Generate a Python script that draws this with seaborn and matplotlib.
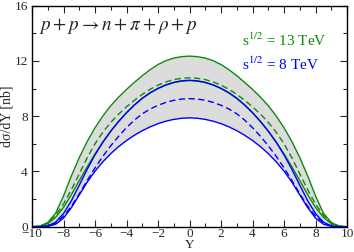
import matplotlib
matplotlib.use("Agg")
import matplotlib.pyplot as plt
import seaborn as sns
import pandas as pd

# rapidity grid, -10 .. 10 in steps of 0.5
Y = [-10.0, -9.5, -9.0, -8.5, -8.0, -7.5, -7.0, -6.5, -6.0, -5.5, -5.0,
     -4.5, -4.0, -3.5, -3.0, -2.5, -2.0, -1.5, -1.0, -0.5, 0.0,
     0.5, 1.0, 1.5, 2.0, 2.5, 3.0, 3.5, 4.0, 4.5, 5.0,
     5.5, 6.0, 6.5, 7.0, 7.5, 8.0, 8.5, 9.0, 9.5, 10.0]

# sqrt(s) = 13 TeV: upper, central (dashed), lower
tev13_hi = [0.0, 0.04, 0.30, 0.98, 2.22, 3.68, 5.00, 6.16, 7.16, 8.02, 8.76,
            9.38, 9.94, 10.45, 10.93, 11.37, 11.74, 12.02, 12.21, 12.31, 12.35,
            12.31, 12.21, 12.02, 11.74, 11.37, 10.93, 10.45, 9.94, 9.38, 8.76,
            8.02, 7.16, 6.16, 5.00, 3.68, 2.22, 0.98, 0.30, 0.04, 0.0]
tev13_mid = [0.0, 0.04, 0.27, 0.82, 1.65, 2.68, 3.82, 4.98, 6.00, 6.85, 7.55,
             8.15, 8.68, 9.15, 9.58, 9.95, 10.25, 10.48, 10.65, 10.74, 10.78,
             10.74, 10.65, 10.48, 10.25, 9.95, 9.58, 9.15, 8.68, 8.15, 7.55,
             6.85, 6.00, 4.98, 3.82, 2.68, 1.65, 0.82, 0.27, 0.04, 0.0]
tev13_lo = [0.0, 0.03, 0.22, 0.68, 1.40, 2.32, 3.33, 4.33, 5.27, 6.13, 6.91,
            7.61, 8.24, 8.80, 9.28, 9.68, 10.00, 10.25, 10.43, 10.54, 10.58,
            10.54, 10.43, 10.25, 10.00, 9.68, 9.28, 8.80, 8.24, 7.61, 6.91,
            6.13, 5.27, 4.33, 3.33, 2.32, 1.40, 0.68, 0.22, 0.03, 0.0]

# sqrt(s) = 8 TeV: upper, central (dashed), lower
tev8_hi = [0.0, 0.0, 0.05, 0.33, 0.95, 1.88, 3.00, 4.15, 5.20, 6.12, 6.92,
           7.63, 8.26, 8.82, 9.30, 9.70, 10.02, 10.27, 10.45, 10.56, 10.60,
           10.56, 10.45, 10.27, 10.02, 9.70, 9.30, 8.82, 8.26, 7.63, 6.92,
           6.12, 5.20, 4.15, 3.00, 1.88, 0.95, 0.33, 0.05, 0.0, 0.0]
tev8_mid = [0.0, 0.0, 0.05, 0.27, 0.76, 1.48, 2.38, 3.34, 4.26, 5.10, 5.86,
            6.55, 7.17, 7.72, 8.17, 8.52, 8.79, 9.00, 9.15, 9.24, 9.27,
            9.24, 9.15, 9.00, 8.79, 8.52, 8.17, 7.72, 7.17, 6.55, 5.86,
            5.10, 4.26, 3.34, 2.38, 1.48, 0.76, 0.27, 0.05, 0.0, 0.0]
tev8_lo = [0.0, 0.0, 0.03, 0.18, 0.62, 1.38, 2.30, 3.22, 4.02, 4.70, 5.29,
           5.80, 6.24, 6.62, 6.95, 7.23, 7.46, 7.64, 7.77, 7.85, 7.88,
           7.85, 7.77, 7.64, 7.46, 7.23, 6.95, 6.62, 6.24, 5.80, 5.29,
           4.70, 4.02, 3.22, 2.30, 1.38, 0.62, 0.18, 0.03, 0.0, 0.0]

green = "#0b8a0b"
blue = "#0000ff"

sns.set_style("ticks")
plt.rcParams["font.family"] = ["Liberation Serif", "DejaVu Serif"]
plt.rcParams["mathtext.fontset"] = "stix"

fig = plt.figure(figsize=(3.54, 2.52), dpi=100)
ax = fig.add_axes([0.0904, 0.1004, 0.890, 0.877])

df = pd.DataFrame({"Y": Y, "g_hi": tev13_hi, "g_mid": tev13_mid, "g_lo": tev13_lo,
                   "b_hi": tev8_hi, "b_mid": tev8_mid, "b_lo": tev8_lo})

# grey band between the 13 TeV upper and 8 TeV lower curves
ax.fill_between(df["Y"], df["b_lo"], df["g_hi"], color="#dcdcdc", lw=0, zorder=0)

lw = 1.0
dash = (0, (4.5, 2.5))
sns.lineplot(data=df, x="Y", y="g_hi", color=green, lw=lw, ax=ax)
sns.lineplot(data=df, x="Y", y="g_lo", color=green, lw=lw, ax=ax)
sns.lineplot(data=df, x="Y", y="g_mid", color=green, lw=lw, ax=ax, linestyle=dash)
sns.lineplot(data=df, x="Y", y="b_hi", color=blue, lw=lw, ax=ax)
sns.lineplot(data=df, x="Y", y="b_lo", color=blue, lw=lw, ax=ax)
sns.lineplot(data=df, x="Y", y="b_mid", color=blue, lw=lw, ax=ax, linestyle=dash)

ax.set_xlim(-10, 10)
ax.set_ylim(0, 16)
ax.set_xticks(range(-10, 11, 2))
ax.set_xticks(range(-9, 10, 2), minor=True)
ax.set_yticks(range(0, 17, 4))
ax.set_yticks(range(2, 16, 4), minor=True)
ax.tick_params(which="both", direction="in", top=True, right=True,
               labelsize=9.5, width=0.8)
ax.tick_params(axis="x", pad=1)
ax.tick_params(axis="y", pad=3)
ax.tick_params(which="major", length=5)
ax.tick_params(which="minor", length=3)
for s in ax.spines.values():
    s.set_linewidth(1.0)
    s.set_color("black")

ax.set_xlabel("Y", fontsize=9.5, va="bottom")
ax.xaxis.set_label_coords(0.5, -0.11)
ax.set_ylabel("d\u03c3/dY [nb]", fontsize=10, labelpad=1)

ax.text(0.022, 0.91, r"$p + p \rightarrow n + \pi + \rho + p$", transform=ax.transAxes,
        fontsize=13.8, va="center", ha="left")
ax.text(0.668, 0.845, r"s$^{\mathrm{1/2}}$ = 13 TeV", transform=ax.transAxes,
        fontsize=11, color=green, va="center", ha="left")
ax.text(0.668, 0.735, r"s$^{\mathrm{1/2}}$ = 8 TeV", transform=ax.transAxes,
        fontsize=11, color=blue, va="center", ha="left")

fig.savefig("out.png", dpi=100)
